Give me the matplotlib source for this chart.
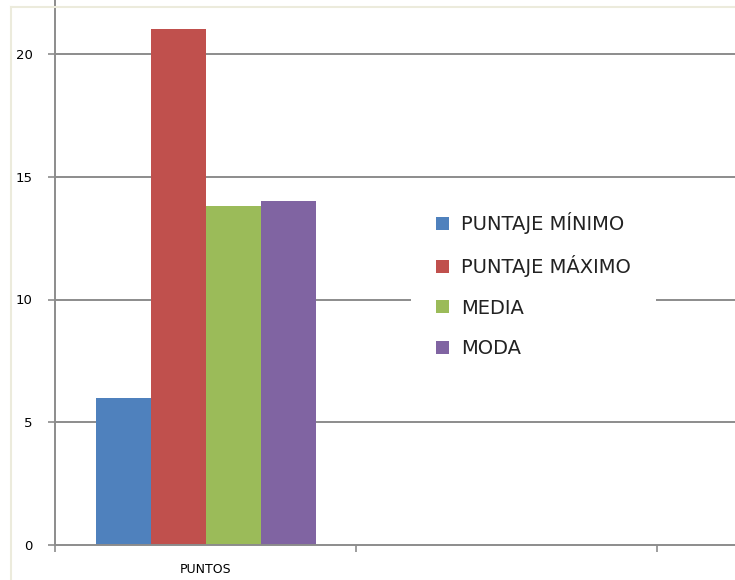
import numpy as np
import matplotlib
matplotlib.use('Agg')
from matplotlib import pyplot as plt
from matplotlib.lines import Line2D

categories = ['PUNTOS', '']
series = ['PUNTAJE MÍNIMO', 'PUNTAJE MÁXIMO', 'MEDIA', 'MODA']
values = [[6, np.nan], [21, np.nan], [13.8, np.nan], [14, np.nan]]
colors = ['#4f81bd', '#c0504d', '#9bbb59', '#8064a2']
yticks = [0, 5, 10, 15, 20]

W, H = 735, 580
fig = plt.figure(figsize=(W / 100, H / 100), dpi=100)
fig.patch.set_facecolor('white')

# plot area runs off the top and right of the picture
ax = fig.add_axes([55 / W, 35 / H, 1 - 55 / W, 1 - 35 / H])
ax.set_ylim(0, 545 / 24.55)
ax.set_xlim(-0.5, (W - 55) / 301 - 0.5)

grid = '#8c8c8c'
for t in yticks[1:]:
    ax.axhline(t, color=grid, lw=1.4, zorder=1)

w = 55 / 301
x = np.arange(len(categories))
for i, (name, vals, c) in enumerate(zip(series, values, colors)):
    ax.bar(x + (i - 1.5) * w, vals, width=w, color=c, label=name, zorder=2)

for s in ['top', 'right']:
    ax.spines[s].set_visible(False)
for s in ['left', 'bottom']:
    ax.spines[s].set_color(grid)
    ax.spines[s].set_linewidth(1.4)

ax.set_yticks(yticks)
ax.set_yticklabels([str(t) for t in yticks], fontsize=9.5)
ax.tick_params(axis='y', length=5, color=grid, width=1.2, pad=11)
ax.set_xticks([-0.5, 0.5, 1.5])
ax.set_xticklabels([])
ax.tick_params(axis='x', length=5, color=grid, width=1.2)
ax.set_xticks(x[:1], labels=categories[:1], minor=True)
ax.tick_params(axis='x', which='minor', length=0, labelsize=9, pad=13)

leg = ax.legend(loc='center left', bbox_to_anchor=(401 / W, 1 - 285 / H),
                bbox_transform=fig.transFigure, frameon=True, fontsize=14,
                handlelength=0.65, handleheight=0.65, handletextpad=0.65,
                labelspacing=1.1, borderpad=1.3)
leg.get_frame().set_edgecolor('white')
leg.get_frame().set_facecolor('white')
leg.get_frame().set_alpha(1)
leg.get_frame().set_linewidth(0)
for t in leg.get_texts():
    t.set_color('#222222')

# faint outer chart border
fig.add_artist(Line2D([11 / W, 1], [1 - 7 / H, 1 - 7 / H], transform=fig.transFigure,
                      color='#ecebdc', lw=1.5))
fig.add_artist(Line2D([11 / W, 11 / W], [0, 1 - 7 / H], transform=fig.transFigure,
                      color='#ecebdc', lw=1.5))

fig.savefig('out.png', dpi=100)
